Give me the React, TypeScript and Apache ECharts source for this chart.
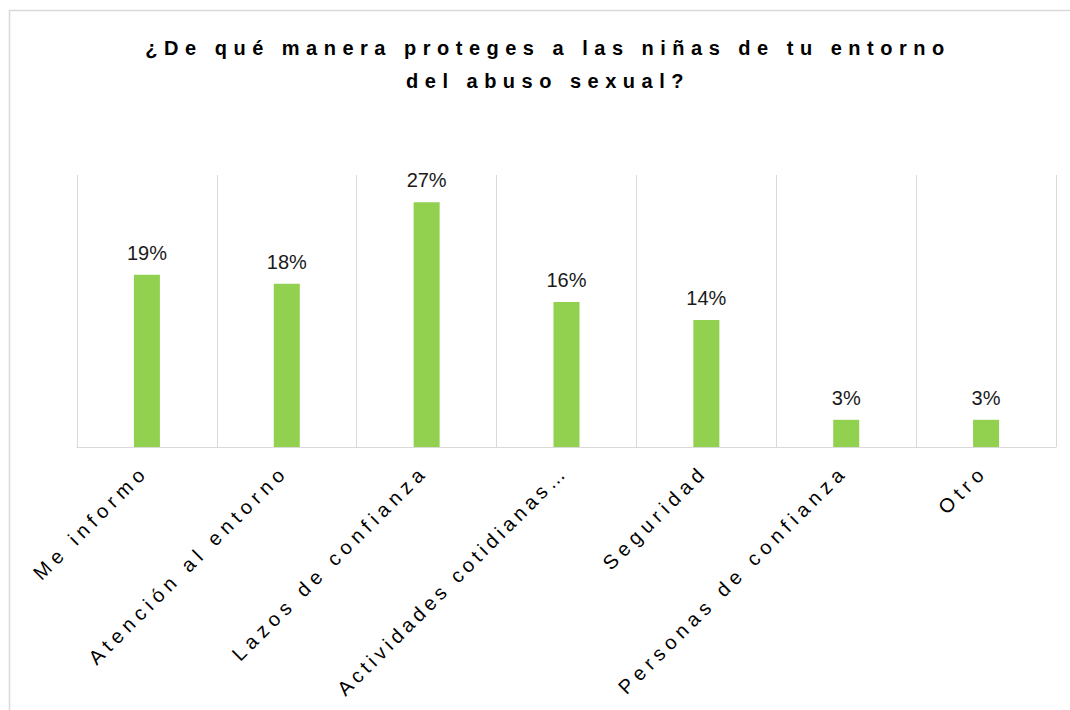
import React, { useEffect, useRef } from 'react';
import * as echarts from 'echarts';

const TITLE_LINES = ['¿De qué manera proteges a las niñas de tu entorno', 'del abuso sexual?'];
const CATEGORIES = [
  'Me informo',
  'Atención al entorno',
  'Lazos de confianza',
  'Actividades cotidianas…',
  'Seguridad',
  'Personas de confianza',
  'Otro',
];
const VALUES = [19, 18, 27, 16, 14, 3, 3];
const Y_MAX = 30;

const FONT = '"Liberation Sans", Arial, Helvetica, sans-serif';

export default function App() {
  const ref = useRef<HTMLDivElement>(null);
  useEffect(() => {
    const el = ref.current!;
    const chart = echarts.init(el, null, { renderer: 'svg' });
    chart.setOption({
      animation: false,
      backgroundColor: '#ffffff',
      title: {
        text: TITLE_LINES.join('\n'),
        left: 543,
        top: 26,
        textAlign: 'center',
        textStyle: { fontFamily: FONT, fontSize: 20, fontWeight: 'bold', color: '#000000', lineHeight: 33 },
      },
      grid: { left: 77, right: 14, top: 175, bottom: 263, containLabel: false },
      xAxis: {
        type: 'category',
        data: CATEGORIES,
        axisLine: { lineStyle: { color: '#d9d9d9', width: 1 } },
        axisTick: { show: false },
        splitLine: { show: true, lineStyle: { color: '#d9d9d9', width: 1 } },
        axisLabel: {
          rotate: 45,
          interval: 0,
          margin: 19,
          padding: [0, 3, 0, 0],
          fontSize: 20,
          color: '#000000',
          fontFamily: FONT,
        },
      },
      yAxis: { type: 'value', min: 0, max: Y_MAX, show: false, splitLine: { show: false } },
      series: [
        {
          type: 'bar',
          data: VALUES,
          barWidth: 26,
          itemStyle: { color: '#92D050' },
          label: { show: true, position: 'top', distance: 12, formatter: '{c}%', fontSize: 20, color: '#1a1a1a', fontFamily: FONT },
        },
      ],
      graphic: [
        {
          type: 'rect',
          silent: true,
          z: -1,
          shape: { x: 9.5, y: 10.5, width: 1200, height: 900 },
          style: { fill: 'none', stroke: '#d9d9d9', lineWidth: 1.5 },
        },
      ],
    });
    el.querySelectorAll('text').forEach((t) => {
      const s = (t.textContent || '').trim();
      if (s.endsWith('%')) return;
      const st = (t as SVGTextElement).style;
      if (TITLE_LINES.includes(s)) st.letterSpacing = '6.5px';
      else if (s === CATEGORIES[3]) st.letterSpacing = '4.3px';
      else if (CATEGORIES.includes(s)) st.letterSpacing = '5.3px';
    });
    return () => chart.dispose();
  }, []);
  return <div ref={ref} style={{ position: 'fixed', left: 0, top: 0, width: 1070, height: 710 }} />;
}
